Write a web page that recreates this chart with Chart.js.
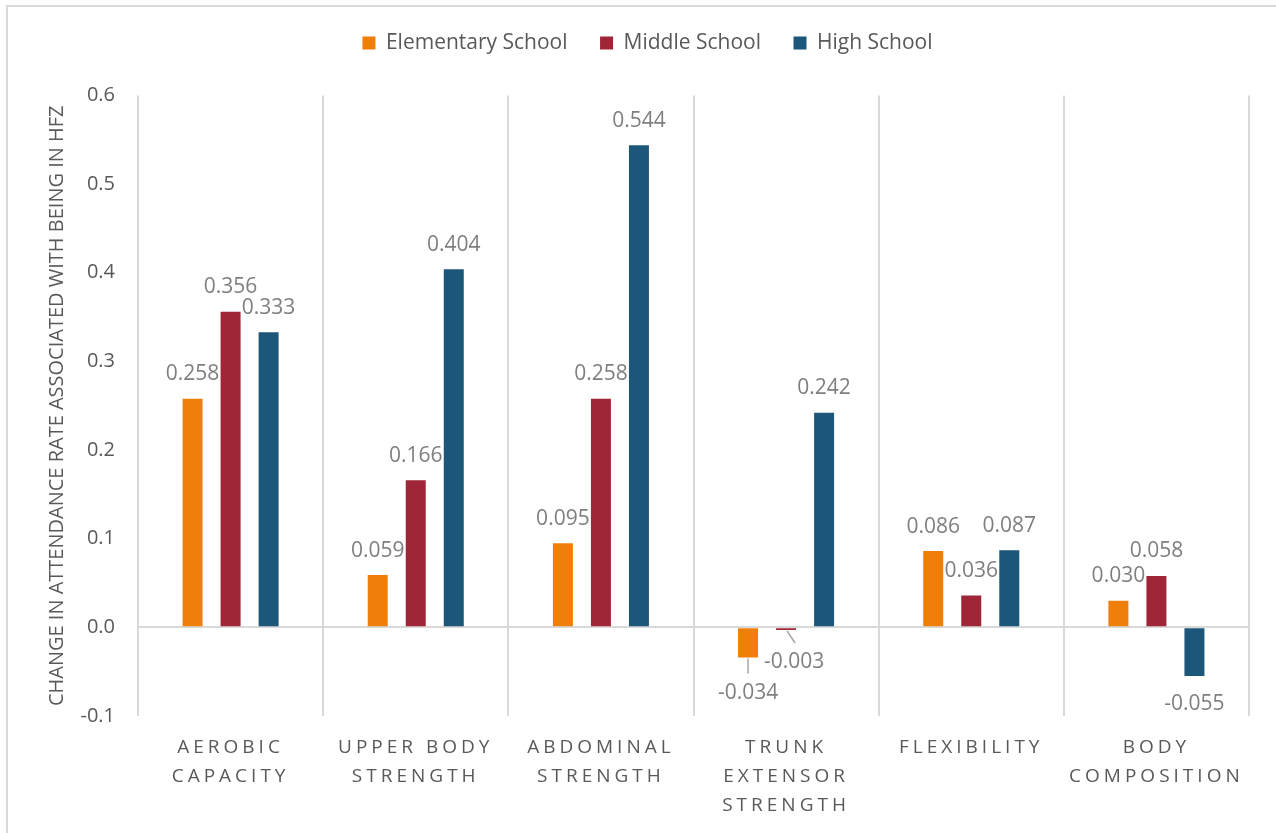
<!DOCTYPE html>
<html>
<head>
<meta charset="utf-8">
<script src="https://cdn.jsdelivr.net/npm/chart.js@4.4.1/dist/chart.umd.min.js"></script>
<style>
  html, body { margin: 0; padding: 0; background: #fff; overflow: hidden; }
  #wrap { position: relative; width: 1276px; height: 833px; }
  #frame { position: absolute; left: 6px; top: 5px; right: -10px; bottom: -10px;
           border-top: 2px solid #d9d9d9; border-left: 2px solid #d9d9d9; pointer-events: none; }
</style>
</head>
<body>
<div id="wrap">
  <canvas id="c" width="1276" height="833"></canvas>
  <div id="frame"></div>
</div>
<script>
const categories = [
  ['AEROBIC', 'CAPACITY'],
  ['UPPER BODY', 'STRENGTH'],
  ['ABDOMINAL', 'STRENGTH'],
  ['TRUNK', 'EXTENSOR', 'STRENGTH'],
  ['FLEXIBILITY'],
  ['BODY', 'COMPOSITION']
];
const elementary = [0.258, 0.059, 0.095, -0.034, 0.086, 0.030];
const middle     = [0.356, 0.166, 0.258, -0.003, 0.036, 0.058];
const high       = [0.333, 0.404, 0.544, 0.242, 0.087, -0.055];
const seriesNames = ['Elementary School', 'Middle School', 'High School'];
const yTicks = [-0.1, 0.0, 0.1, 0.2, 0.3, 0.4, 0.5, 0.6];
const yTitle = 'CHANGE IN ATTENDANCE RATE ASSOCIATED WITH BEING IN HFZ';

const colors = ['#EF7F0A', '#9E2636', '#1C5678'];
const FONT = "'Open Sans', sans-serif";

const layoutPlugin = {
  id: 'layoutTweak',
  beforeLayout(chart) {
    const lg = chart.legend;
    if (lg && !lg._wrapped) {
      const f = lg.fit;
      lg.fit = function () { f.call(this); this.height += 32; };
      lg._wrapped = true;
    }
  },
  afterLayout(chart) {
    const lg = chart.legend;
    if (lg) { lg.left += 23; lg.right += 23; }
  },
  beforeDraw(chart) {
    const xs = chart.scales.x;
    if (xs && !xs._lsWrapped) {
      const orig = xs.drawLabels;
      xs.drawLabels = function (area) {
        const ctx = this.ctx;
        ctx.save();
        ctx.letterSpacing = '4px';
        orig.call(this, area);
        ctx.restore();
      };
      xs._lsWrapped = true;
    }
  }
};

const labelPlugin = {
  id: 'barLabels',
  afterDatasetsDraw(chart, args, opts) {
    const ctx = chart.ctx;
    ctx.save();
    ctx.font = '21px ' + FONT;
    ctx.fillStyle = '#7F7F7F';
    ctx.textAlign = 'center';
    ctx.textBaseline = 'middle';
    chart.data.datasets.forEach((ds, di) => {
      const meta = chart.getDatasetMeta(di);
      meta.data.forEach((el, i) => {
        const v = ds.data[i];
        const key = di + '-' + i;
        const n = (opts.nudge && opts.nudge[key]) || null;
        let x = el.x, y;
        if (v >= 0) {
          y = el.y - 24.5;
        } else {
          y = el.y + 28;
        }
        if (n) {
          x += n.dx; y += n.dy;
          ctx.strokeStyle = '#A6A6A6';
          ctx.lineWidth = 1.5;
          ctx.beginPath();
          ctx.moveTo(el.x + (n.lx0 || 0), el.y + 1);
          ctx.lineTo(el.x + (n.lx1 || 0), el.y + n.ll);
          ctx.stroke();
        }
        ctx.fillText(v.toFixed(3), x, y);
      });
    });
    ctx.restore();
  }
};

const datasets = [elementary, middle, high].map((d, i) => ({
  label: seriesNames[i],
  data: d,
  backgroundColor: colors[i],
  borderWidth: 0,
  categoryPercentage: 0.616,
  barPercentage: 0.526
}));

new Chart(document.getElementById('c'), {
  type: 'bar',
  data: { labels: categories, datasets },
  plugins: [layoutPlugin, labelPlugin],
  options: {
    responsive: false,
    animation: false,
    layout: { padding: { left: 0, right: 27, top: 0, bottom: 0 } },
    plugins: {
      legend: {
        position: 'top',
        labels: {
          boxWidth: 13, boxHeight: 13, padding: 32.5,
          color: '#595959', font: { family: FONT, size: 21 }
        }
      },
      tooltip: { enabled: false },
      barLabels: {
        nudge: {
          '0-3': { dx: 0, dy: 8, ll: 16, lx0: 0, lx1: 0 },
          '1-3': { dx: 8, dy: 4, ll: 13, lx0: 1, lx1: 9 }
        }
      }
    },
    scales: {
      x: {
        grid: { offset: true, color: '#D9D9D9', lineWidth: 2, drawTicks: false },
        border: { display: false },
        ticks: {
          color: '#595959', font: { family: FONT, size: 19, lineHeight: 1.526 },
          padding: 17.5, maxRotation: 0, autoSkip: false
        },
        afterFit(s) { s.height = 117; }
      },
      y: {
        min: -0.1, max: 0.6,
        afterBuildTicks(s) { s.ticks = yTicks.map(v => ({ value: v })); },
        grid: {
          color: ctx => (ctx.tick && Math.abs(ctx.tick.value) < 1e-9) ? '#D9D9D9' : 'rgba(0,0,0,0)',
          lineWidth: 2, drawTicks: false
        },
        border: { display: false },
        ticks: {
          color: '#595959', font: { family: FONT, size: 20 }, padding: 23,
          callback: v => Number(v).toFixed(1)
        },
        title: {
          display: true, text: yTitle, color: '#595959',
          font: { family: FONT, size: 20 }, padding: { top: 45, bottom: 0 }
        },
        afterFit(s) { s.width = 138; }
      }
    }
  }
});
</script>
</body>
</html>
